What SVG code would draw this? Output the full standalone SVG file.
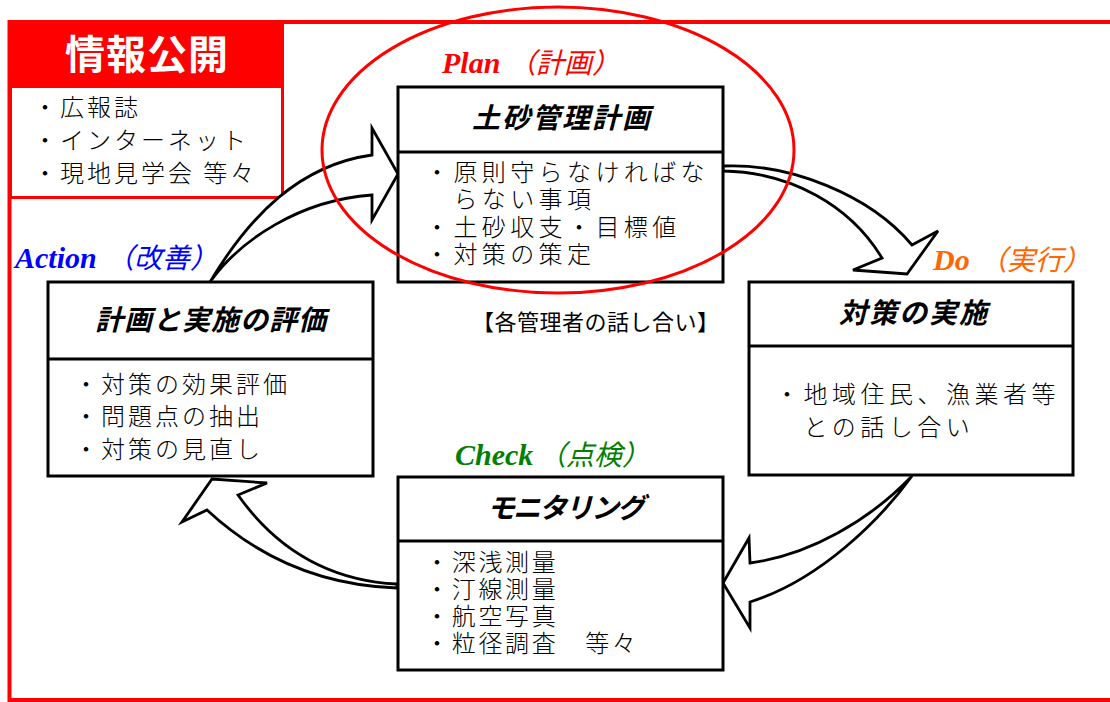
<svg xmlns="http://www.w3.org/2000/svg" width="1110" height="702" viewBox="0 0 1110 702">
<style>
.box{fill:#fff;stroke:#000;stroke-width:3}
.div{stroke:#000;stroke-width:3}
.arrow{fill:#fff;stroke:#000;stroke-width:2.8;stroke-linejoin:miter}
.title{font-family:"Noto Sans CJK JP",sans-serif;font-weight:bold;font-style:italic;font-size:28px;fill:#000;text-anchor:middle}
.body{font-family:"Noto Sans CJK JP",sans-serif;font-weight:300;font-size:24px;fill:#000}
.lat{font-family:"Liberation Serif",serif;font-weight:bold;font-style:italic;font-size:30px}
.jp{font-family:"Noto Sans CJK JP",sans-serif;font-weight:normal;font-style:italic;font-size:28px}
</style>
<rect x="0" y="0" width="1110" height="702" fill="#fff"/>
<rect id="frame" x="9.5" y="22" width="1115" height="678" fill="none" stroke="#ff0000" stroke-width="4"/>
<g id="info">
<rect x="8" y="20" width="276" height="179" fill="#ff0000"/>
<rect x="12" y="88" width="269" height="108" fill="#fff"/>
<text x="147" y="69" font-family="'Noto Sans CJK JP',sans-serif" font-weight="bold" font-size="40" fill="#fff" text-anchor="middle" letter-spacing="1">情報公開</text>
<text class="body" letter-spacing="3"><tspan x="33" y="116">・広報誌</tspan><tspan x="33" y="149">・インターネット</tspan><tspan x="33" y="182">・現地見学会 等々</tspan></text>
</g>
<g id="connectors">
<path class="arrow" d="M210,282 C250,215 300,165 372,155 L372,128 L398,174 L372,220 L372,195 C300,200 240,240 210,282 Z"/>
<path class="arrow" d="M723,166 C790,163 870,195 912,245 L938,231 L907,274 L853,270 L882,258 C850,205 790,172 723,171 Z"/>
<path class="arrow" d="M912,476 C870,520 810,555 750,563 L749,538 L723,583 L750,628 L750,602 C820,580 880,520 912,476 Z"/>
<path class="arrow" d="M397,584 C320,580 270,540 238,495 L267,483 L212,479 L182,522 L207,510 C250,550 310,585 397,588 Z"/>
</g>
<g id="plan">
<rect class="box" x="398" y="87" width="325" height="195"/>
<line class="div" x1="398" y1="152" x2="723" y2="152"/>
<text class="title" x="562" y="128" letter-spacing="2">土砂管理計画</text>
<text class="body" letter-spacing="4.4"><tspan x="425" y="181">・原則守らなければな</tspan><tspan x="453.4" y="208">らない事項</tspan><tspan x="425" y="236">・土砂収支・目標値</tspan><tspan x="425" y="263">・対策の策定</tspan></text>
</g>
<g id="do">
<rect class="box" x="749" y="282" width="324" height="193"/>
<line class="div" x1="749" y1="346" x2="1073" y2="346"/>
<text class="title" x="914" y="323" letter-spacing="2">対策の実施</text>
<text class="body" letter-spacing="4.5"><tspan x="775" y="403">・地域住民、漁業者等</tspan><tspan x="803.5" y="436">との話し合い</tspan></text>
</g>
<g id="check">
<rect class="box" x="398" y="477" width="325" height="193"/>
<line class="div" x1="398" y1="541" x2="723" y2="541"/>
<text class="title" x="565" y="518" letter-spacing="-2">モニタリング</text>
<text class="body" letter-spacing="2.7"><tspan x="425" y="571">・深浅測量</tspan><tspan x="425" y="598">・汀線測量</tspan><tspan x="425" y="625">・航空写真</tspan><tspan x="425" y="652">・粒径調査　等々</tspan></text>
</g>
<g id="action">
<rect class="box" x="48" y="282" width="325" height="194"/>
<line class="div" x1="48" y1="359" x2="373" y2="359"/>
<text class="title" x="211" y="330" letter-spacing="1">計画と実施の評価</text>
<text class="body" letter-spacing="3"><tspan x="74" y="393">・対策の効果評価</tspan><tspan x="74" y="425">・問題点の抽出</tspan><tspan x="74" y="458">・対策の見直し</tspan></text>
</g>
<g id="labels">
<text fill="#ff0000" y="73"><tspan class="lat" x="442">Plan</tspan><tspan class="jp" x="508">（計画）</tspan></text>
<text fill="#0000ff" y="268"><tspan class="lat" x="15">Action</tspan><tspan class="jp" x="106">（改善）</tspan></text>
<text fill="#ff6600" y="270"><tspan class="lat" x="933">Do</tspan><tspan class="jp" x="979">（実行）</tspan></text>
<text fill="#008000" y="465"><tspan class="lat" x="455">Check</tspan><tspan class="jp" x="538">（点検）</tspan></text>
<text x="472" y="330" font-family="'Noto Sans CJK JP',sans-serif" font-size="22" letter-spacing="0.5" fill="#000">【各管理者の話し合い】</text>
</g>
<ellipse id="plan-highlight" cx="558" cy="150" rx="236" ry="143" fill="none" stroke="#ff0000" stroke-width="3"/>
</svg>
